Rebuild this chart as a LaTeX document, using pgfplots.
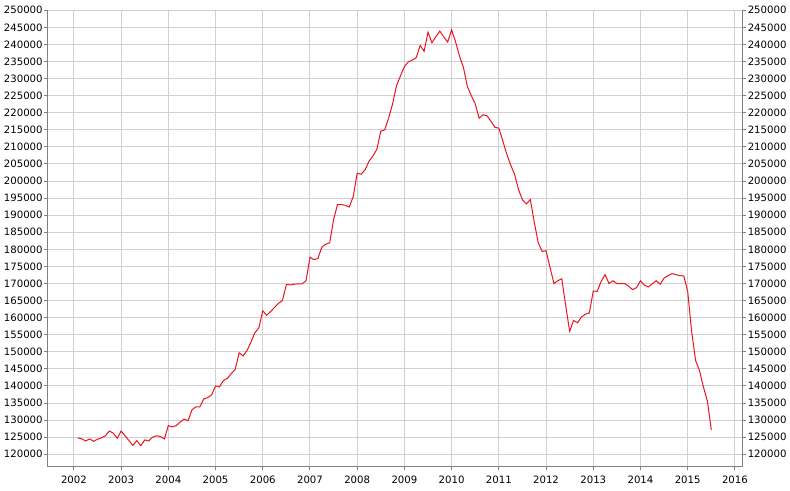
\documentclass[border=0pt]{standalone}
\usepackage{pgfplots}
\pgfplotsset{compat=1.18}
\usepackage{fontspec}
\setmainfont{DejaVu Sans}

\definecolor{gridgray}{RGB}{208,208,208}
\definecolor{axisgray}{RGB}{128,128,128}
\definecolor{linered}{RGB}{235,20,30}

\pgfplotsset{
  common/.style={
    width=521.6pt, height=342.3pt, scale only axis,
    at={(0,0)}, anchor=south west,
    xmin=2001.44, xmax=2016.17,
    ymin=116370, ymax=250000,
    ytick={120000,125000,...,250000},
    scaled y ticks=false,
    scaled x ticks=false,
    tick align=outside,
    major tick length=2.25pt,
    tick style={draw=axisgray, line width=0.75pt},
    axis line style={draw=axisgray, line width=0.75pt, -},
    every outer x axis line/.append style={-},
    every outer y axis line/.append style={-},
    tick label style={font=\fontsize{7.6}{9}\selectfont, text=black},
    /pgf/number format/assume math mode=true,
    /pgf/number format/fixed,
    /pgf/number format/precision=0,
    /pgf/number format/1000 sep={},
    yticklabel style={inner sep=1.2pt},
  }
}

\begin{document}
\begin{tikzpicture}
\path[use as bounding box] (-35.6pt,-17.5pt) rectangle (556.9pt,350pt);

\begin{axis}[common,
  axis x line*=bottom, axis y line*=left,
  xtick={2002,2003,...,2016},
  xticklabel style={inner sep=2.5pt, yshift=-2pt},
  grid=major,
  major grid style={draw=gridgray, line width=0.75pt},
]
\addplot[color=linered, line width=0.75pt, mark=none] coordinates {
(2002.083,124800) (2002.167,124500) (2002.250,123900) (2002.333,124500)
(2002.417,123800) (2002.500,124400) (2002.583,124800) (2002.667,125400)
(2002.750,126800) (2002.833,126200) (2002.917,124700) (2003.000,126800)
(2003.083,125400) (2003.167,124000) (2003.250,122600) (2003.333,124000)
(2003.417,122500) (2003.500,124200) (2003.583,123900) (2003.667,125000)
(2003.750,125400) (2003.833,125200) (2003.917,124500) (2004.000,128400)
(2004.083,128000) (2004.167,128400) (2004.250,129400) (2004.333,130300)
(2004.417,129800) (2004.500,133000) (2004.583,133900) (2004.667,133900)
(2004.750,136200) (2004.833,136600) (2004.917,137400) (2005.000,140000)
(2005.083,139700) (2005.167,141600) (2005.250,142200) (2005.333,143600)
(2005.417,144900) (2005.500,149700) (2005.583,148800) (2005.667,150400)
(2005.750,152800) (2005.833,155600) (2005.917,157000) (2006.000,162000)
(2006.083,160700) (2006.167,161800) (2006.250,163000) (2006.333,164200)
(2006.417,165000) (2006.500,169700) (2006.583,169600) (2006.667,169800)
(2006.750,169900) (2006.833,169900) (2006.917,170800) (2007.000,177700)
(2007.083,177000) (2007.167,177300) (2007.250,180600) (2007.333,181500)
(2007.417,181900) (2007.500,188700) (2007.583,193100) (2007.667,193100)
(2007.750,192900) (2007.833,192400) (2007.917,195500) (2008.000,202300)
(2008.083,202000) (2008.167,203300) (2008.250,205800) (2008.333,207300)
(2008.417,209300) (2008.500,214600) (2008.583,215000) (2008.667,218500)
(2008.750,222600) (2008.833,227900) (2008.917,230800) (2009.000,233500)
(2009.083,234900) (2009.167,235400) (2009.250,236100) (2009.333,239700)
(2009.417,238000) (2009.500,243600) (2009.583,240500) (2009.667,242300)
(2009.750,243900) (2009.833,242200) (2009.917,240700) (2010.000,244300)
(2010.083,240800) (2010.167,236600) (2010.250,233300) (2010.333,227700)
(2010.417,225000) (2010.500,222600) (2010.583,218400) (2010.667,219400)
(2010.750,219100) (2010.833,217500) (2010.917,215700) (2011.000,215500)
(2011.083,211800) (2011.167,207900) (2011.250,204700) (2011.333,202000)
(2011.417,197500) (2011.500,194500) (2011.583,193300) (2011.667,194600)
(2011.750,188000) (2011.833,182000) (2011.917,179400) (2012.000,179600)
(2012.083,174800) (2012.167,170000) (2012.250,170800) (2012.333,171400)
(2012.417,163500) (2012.500,156000) (2012.583,159200) (2012.667,158500)
(2012.750,160200) (2012.833,161000) (2012.917,161400) (2013.000,167800)
(2013.083,167700) (2013.167,170600) (2013.250,172600) (2013.333,170000)
(2013.417,170800) (2013.500,170000) (2013.583,170000) (2013.667,170000)
(2013.750,169200) (2013.833,168200) (2013.917,168800) (2014.000,170800)
(2014.083,169500) (2014.167,169000) (2014.250,169900) (2014.333,170800)
(2014.417,169800) (2014.500,171600) (2014.583,172300) (2014.667,172900)
(2014.750,172600) (2014.833,172300) (2014.917,172200) (2015.000,167700)
(2015.083,156000) (2015.167,147500) (2015.250,144500) (2015.333,139700)
(2015.417,135600) (2015.500,127100)
};
\end{axis}

\begin{axis}[common,
  axis y line*=right, hide x axis,
  ymajorgrids=false, xmajorgrids=false,
]
\addplot[draw=none] coordinates {(2002,120000)};
\end{axis}
\end{tikzpicture}
\end{document}
